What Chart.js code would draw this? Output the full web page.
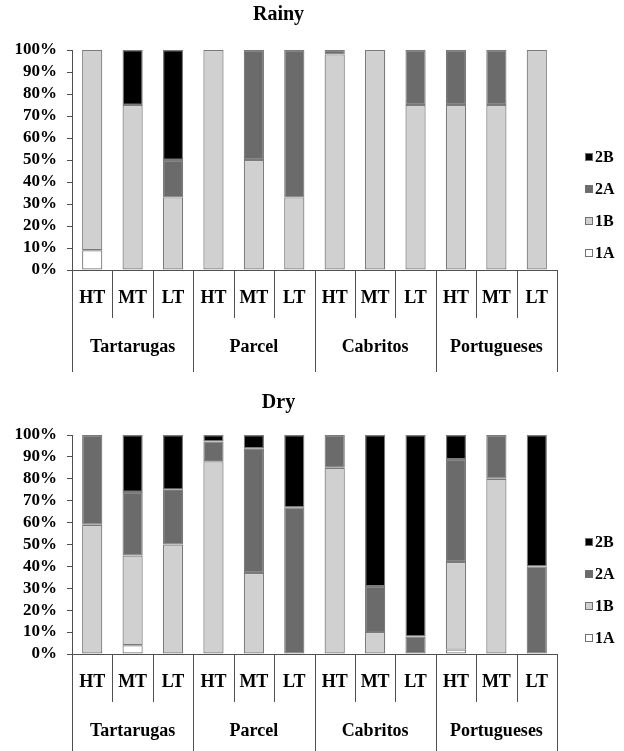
<!DOCTYPE html>
<html>
<head>
<meta charset="utf-8">
<script src="https://cdn.jsdelivr.net/npm/chart.js@4.4.1/dist/chart.umd.min.js"></script>
<style>
    body { margin: 0; background: #fff; }
    canvas { display: block; }
</style>
</head>
<body>
<canvas id="rainyChart" width="624" height="375"></canvas>
<canvas id="dryChart" width="624" height="376"></canvas>
<script>
// sites and tide levels
const sites = ['Tartarugas', 'Parcel', 'Cabritos', 'Portugueses'];
const levels = ['HT', 'MT', 'LT'];
const seriesNames = ['1A', '1B', '2A', '2B'];
const yTicks = [0, 10, 20, 30, 40, 50, 60, 70, 80, 90, 100];

// Rainy season (%)
const rainy1A = [9, 0, 0, 0, 0, 0, 0, 0, 0, 0, 0, 0];
const rainy1B = [91, 75, 33, 100, 50, 33, 98, 100, 75, 75, 75, 100];
const rainy2A = [0, 0, 17, 0, 50, 67, 2, 0, 25, 25, 25, 0];
const rainy2B = [0, 25, 50, 0, 0, 0, 0, 0, 0, 0, 0, 0];

// Dry season (%)
const dry1A = [0, 4, 0, 0, 0, 0, 0, 0, 0, 2, 0, 0];
const dry1B = [59, 41, 50, 88, 37, 0, 85, 10, 0, 40, 80, 0];
const dry2A = [41, 29, 25, 9, 57, 67, 15, 21, 8, 47, 20, 40];
const dry2B = [0, 26, 25, 3, 6, 33, 0, 69, 92, 11, 0, 60];

const fillColors = ['#ffffff', '#d0d0d0', '#6b6b6b', '#000000'];
const serif = 'Liberation Serif';

const labels = [];
sites.forEach(function (s) {
    levels.forEach(function (l) {
        labels.push(l);
    });
});

// draws the two-row category boxes below the x axis
const groupAxisPlugin = {
    id: 'groupAxis',
    afterDraw: function (chart) {
        const ctx = chart.ctx;
        const x = chart.scales.x;
        const area = chart.chartArea;
        const y0 = area.bottom;
        const n = labels.length;

        ctx.save();
        ctx.strokeStyle = '#505050';
        ctx.lineWidth = 1;
        for (let i = 0; i <= n; i++) {
            const px = (i === 0) ? area.left : (i === n ? area.right : (x.getPixelForValue(i - 1) + x.getPixelForValue(i)) / 2);
            const isGroup = (i % levels.length === 0);
            ctx.beginPath();
            ctx.moveTo(Math.round(px) + 0.5, y0);
            ctx.lineTo(Math.round(px) + 0.5, y0 + (isGroup ? 102 : 48));
            ctx.stroke();
        }

        ctx.fillStyle = '#000';
        ctx.textAlign = 'center';
        ctx.textBaseline = 'middle';
        ctx.font = 'bold 18px "' + serif + '"';
        for (let i = 0; i < n; i++) {
            ctx.fillText(labels[i], x.getPixelForValue(i), y0 + 28);
        }
        for (let g = 0; g < sites.length; g++) {
            const first = x.getPixelForValue(g * levels.length);
            const last = x.getPixelForValue(g * levels.length + levels.length - 1);
            ctx.fillText(sites[g], (first + last) / 2, y0 + 77);
        }
        ctx.restore();
    }
};

// legend on the right, top entry is 2B
const sideLegendPlugin = {
    id: 'sideLegend',
    afterDraw: function (chart) {
        const ctx = chart.ctx;
        const area = chart.chartArea;
        const sets = chart.data.datasets.slice().reverse();
        ctx.save();
        ctx.font = 'bold 16px "' + serif + '"';
        ctx.textBaseline = 'middle';
        ctx.textAlign = 'left';
        sets.forEach(function (ds, i) {
            const cy = area.top + 107 + i * 32;
            ctx.fillStyle = ds.backgroundColor;
            ctx.fillRect(585, cy - 4, 8, 8);
            ctx.strokeStyle = '#707070';
            ctx.lineWidth = 1;
            ctx.strokeRect(585.5, cy - 3.5, 7, 7);
            ctx.fillStyle = '#000';
            ctx.fillText(ds.label, 595, cy + 1);
        });
        ctx.restore();
    }
};

function makeChart(canvasId, title, values, titleTop, titleBottom, xHeight) {
    const ctx = document.getElementById(canvasId).getContext('2d');
    const datasets = [];
    for (let i = 0; i < seriesNames.length; i++) {
        datasets.push({
            label: seriesNames[i],
            data: values[i],
            backgroundColor: fillColors[i],
            borderColor: '#7a7a7a',
            borderWidth: 1.2,
            borderSkipped: false,
            categoryPercentage: 1.0,
            barPercentage: 0.5
        });
    }
    return new Chart(ctx, {
        type: 'bar',
        data: { labels: labels, datasets: datasets },
        plugins: [groupAxisPlugin, sideLegendPlugin],
        options: {
            responsive: false,
            animation: false,
            layout: { padding: { left: 0, right: 67, top: 0, bottom: 0 } },
            plugins: {
                legend: { display: false },
                tooltip: { enabled: false },
                title: {
                    display: true,
                    text: title,
                    color: '#000',
                    font: { family: serif, size: 20, weight: 'bold' },
                    padding: { top: titleTop, bottom: titleBottom }
                }
            },
            scales: {
                x: {
                    stacked: true,
                    ticks: { display: false },
                    grid: { display: false },
                    border: { display: true, color: '#505050', width: 1 },
                    afterFit: function (scale) { scale.height = xHeight; }
                },
                y: {
                    stacked: true,
                    min: 0,
                    max: 100,
                    afterBuildTicks: function (scale) {
                        scale.ticks = yTicks.map(function (v) { return { value: v }; });
                    },
                    ticks: {
                        color: '#000',
                        padding: 10,
                        autoSkip: false,
                        font: { family: serif, size: 17, weight: 'bold' },
                        callback: function (v) { return v + '%'; }
                    },
                    grid: { display: true, drawOnChartArea: false, tickLength: 5, color: '#505050' },
                    border: { display: true, color: '#505050', width: 1 },
                    afterFit: function (scale) { scale.width = 72; }
                }
            }
        }
    });
}

makeChart('rainyChart', 'Rainy', [rainy1A, rainy1B, rainy2A, rainy2B], 3, 23, 105);
makeChart('dryChart', 'Dry', [dry1A, dry1B, dry2A, dry2B], 16, 20, 97);
</script>
</body>
</html>
